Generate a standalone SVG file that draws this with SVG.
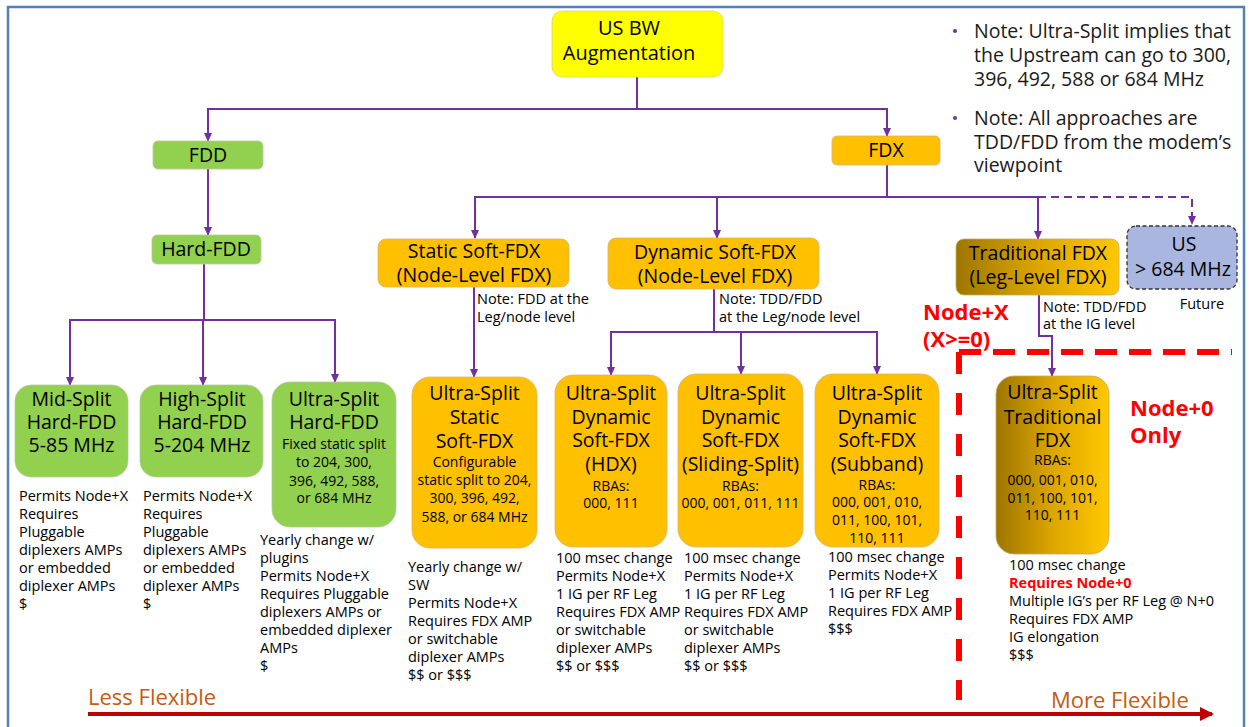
<svg xmlns="http://www.w3.org/2000/svg" width="1250" height="727" viewBox="0 0 1250 727">
<style>
text{font-family:"Open Sans","Noto Sans",sans-serif;fill:#000}
.h{font-size:19.5px;text-anchor:middle}
.s{font-size:14px;text-anchor:middle}
.d{font-size:14.5px}
.n{font-size:14.5px}
.note{font-size:19.5px;fill:#1a1a1a}
.red{font-weight:bold;fill:#FF0000;font-size:22px}
.c{fill:none;stroke:#7030A0;stroke-width:2}
.ca{fill:none;stroke:#7030A0;stroke-width:2;marker-end:url(#ah)}
.g{fill:#92D050;stroke:#b5c9a0;stroke-width:0.8}
.o{fill:#FFC000;stroke:#d9b36a;stroke-width:0.8}
.tr{fill:url(#gold);stroke:#c9a860;stroke-width:0.8}
</style>
<defs>
<marker id="ah" markerWidth="9" markerHeight="9" refX="8" refY="4.5" orient="auto" markerUnits="userSpaceOnUse">
<path d="M0,0.5 L9,4.5 L0,8.5 z" fill="#7030A0"/>
</marker>
<marker id="rh" markerWidth="14" markerHeight="14" refX="12" refY="7" orient="auto" markerUnits="userSpaceOnUse">
<path d="M0,0 L14,7 L0,14 z" fill="#C00000"/>
</marker>
<linearGradient id="gold" x1="0" y1="0" x2="1" y2="0">
<stop offset="0" stop-color="#9E7600"/>
<stop offset="0.5" stop-color="#DCA600"/>
<stop offset="1" stop-color="#FFC800"/>
</linearGradient>
</defs>
<rect width="1250" height="727" fill="#fff"/>
<rect x="8" y="7" width="1236" height="740" fill="none" stroke="#4F81BD" stroke-width="2.5"/>

<g id="connectors">
<path class="c" d="M637,77 V109"/>
<path class="ca" d="M637,109 H208 V141"/>
<path class="ca" d="M637,109 H887 V136"/>
<path class="ca" d="M208,169 V235"/>
<path class="c" d="M204,264 V320"/>
<path class="ca" d="M204,320 H70 V385"/>
<path class="ca" d="M203,320 V385"/>
<path class="ca" d="M204,320 H335 V382"/>
<path class="c" d="M887,165 V197"/>
<path class="ca" d="M887,197 H475 V238"/>
<path class="ca" d="M717,197 V238"/>
<path class="ca" d="M887,197 H1038 V239"/>
<path class="ca" d="M1038,197 H1192 V224" stroke-dasharray="8 5"/>
<path class="ca" d="M474,287 V377"/>
<path class="c" d="M714,289 V332"/>
<path class="ca" d="M714,332 H611 V375"/>
<path class="ca" d="M741,332 V374"/>
<path class="ca" d="M714,332 H877 V374"/>
<path class="ca" d="M1039,295 V336 H1052 V376"/>
</g>

<g id="root">
<rect x="552" y="11" width="171" height="66" rx="10" fill="#FFFF00" stroke="#d8d860" stroke-width="0.8"/>
<text class="h" x="629" y="35" style="font-size:20px">US BW</text>
<text class="h" x="629" y="60" style="font-size:20px">Augmentation</text>
</g>

<g id="fdd">
<rect class="g" x="153" y="141" width="110" height="28" rx="5"/>
<text class="h" x="208" y="162">FDD</text>
</g>

<g id="fdx">
<rect class="o" x="832" y="136" width="108" height="29" rx="5"/>
<text class="h" x="886" y="157">FDX</text>
</g>

<g id="hard-fdd">
<rect class="g" x="152" y="235" width="109" height="29" rx="5"/>
<text class="h" x="206" y="256">Hard-FDD</text>
</g>

<g id="static-soft">
<rect class="o" x="378" y="239" width="191" height="48" rx="8"/>
<text class="h" x="474" y="258">Static Soft-FDX</text>
<text class="h" x="474" y="282">(Node-Level FDX)</text>
<text class="n" x="477" y="304">Note: FDD at the</text>
<text class="n" x="477" y="322">Leg/node level</text>
</g>

<g id="dynamic-soft">
<rect class="o" x="608" y="238" width="211" height="51" rx="8"/>
<text class="h" x="715" y="259">Dynamic Soft-FDX</text>
<text class="h" x="715" y="283">(Node-Level FDX)</text>
<text class="n" x="719" y="304">Note: TDD/FDD</text>
<text class="n" x="719" y="322">at the Leg/node level</text>
</g>

<g id="traditional">
<rect class="tr" x="956" y="239" width="163" height="56" rx="8"/>
<text class="h" x="1038" y="260">Traditional FDX</text>
<text class="h" x="1038" y="284">(Leg-Level FDX)</text>
<text class="n" x="1043" y="312">Note: TDD/FDD</text>
<text class="n" x="1043" y="329">at the IG level</text>
</g>

<g id="us-future">
<rect x="1127" y="226" width="110" height="63" rx="9" fill="#A9B7E0" stroke="#333" stroke-width="1.3" stroke-dasharray="4 2.5"/>
<text class="h" x="1184" y="251">US</text>
<text class="h" x="1183" y="276">&gt; 684 MHz</text>
<text class="n" x="1202" y="309" text-anchor="middle">Future</text>
</g>

<g id="mid-split">
<rect class="g" x="15" y="385" width="113" height="92" rx="16"/>
<text class="h" x="71.5" y="406">Mid-Split</text>
<text class="h" x="71.5" y="429">Hard-FDD</text>
<text class="h" x="71.5" y="452">5-85 MHz</text>
<text class="d" x="19" y="501">Permits Node+X</text>
<text class="d" x="19" y="519">Requires</text>
<text class="d" x="19" y="537">Pluggable</text>
<text class="d" x="19" y="555">diplexers AMPs</text>
<text class="d" x="19" y="573">or embedded</text>
<text class="d" x="19" y="591">diplexer AMPs</text>
<text class="d" x="19" y="609">$</text>
</g>

<g id="high-split">
<rect class="g" x="140" y="385" width="123" height="92" rx="16"/>
<text class="h" x="202" y="406">High-Split</text>
<text class="h" x="202" y="429">Hard-FDD</text>
<text class="h" x="202" y="452">5-204 MHz</text>
<text class="d" x="143" y="501">Permits Node+X</text>
<text class="d" x="143" y="519">Requires</text>
<text class="d" x="143" y="537">Pluggable</text>
<text class="d" x="143" y="555">diplexers AMPs</text>
<text class="d" x="143" y="573">or embedded</text>
<text class="d" x="143" y="591">diplexer AMPs</text>
<text class="d" x="143" y="609">$</text>
</g>

<g id="ultra-hard">
<rect class="g" x="272" y="382" width="124" height="145" rx="18"/>
<text class="h" x="334" y="406">Ultra-Split</text>
<text class="h" x="334" y="429">Hard-FDD</text>
<text class="s" x="334" y="449">Fixed static split</text>
<text class="s" x="334" y="467">to 204, 300,</text>
<text class="s" x="334" y="486">396, 492, 588,</text>
<text class="s" x="334" y="503">or 684 MHz</text>
<text class="d" x="260" y="545">Yearly change w/</text>
<text class="d" x="260" y="563">plugins</text>
<text class="d" x="260" y="581">Permits Node+X</text>
<text class="d" x="260" y="599">Requires Pluggable</text>
<text class="d" x="260" y="617">diplexers AMPs or</text>
<text class="d" x="260" y="635">embedded diplexer</text>
<text class="d" x="260" y="653">AMPs</text>
<text class="d" x="260" y="671">$</text>
</g>

<g id="ultra-static">
<rect class="o" x="412" y="377" width="125" height="171" rx="18"/>
<text class="h" x="474.5" y="400">Ultra-Split</text>
<text class="h" x="474.5" y="424">Static</text>
<text class="h" x="474.5" y="448">Soft-FDX</text>
<text class="s" x="474.5" y="467">Configurable</text>
<text class="s" x="474.5" y="485">static split to 204,</text>
<text class="s" x="474.5" y="503">300, 396, 492,</text>
<text class="s" x="474.5" y="522">588, or 684 MHz</text>
<text class="d" x="408" y="572">Yearly change w/</text>
<text class="d" x="408" y="590">SW</text>
<text class="d" x="408" y="608">Permits Node+X</text>
<text class="d" x="408" y="626">Requires FDX AMP</text>
<text class="d" x="408" y="644">or switchable</text>
<text class="d" x="408" y="662">diplexer AMPs</text>
<text class="d" x="408" y="680">$$ or $$$</text>
</g>

<g id="ultra-hdx">
<rect class="o" x="555" y="375" width="112" height="172" rx="18"/>
<text class="h" x="611" y="400">Ultra-Split</text>
<text class="h" x="611" y="424">Dynamic</text>
<text class="h" x="611" y="447">Soft-FDX</text>
<text class="h" x="611" y="471">(HDX)</text>
<text class="s" x="611" y="491">RBAs:</text>
<text class="s" x="611" y="508">000, 111</text>
<text class="d" x="556" y="563">100 msec change</text>
<text class="d" x="556" y="581">Permits Node+X</text>
<text class="d" x="556" y="599">1 IG per RF Leg</text>
<text class="d" x="556" y="617">Requires FDX AMP</text>
<text class="d" x="556" y="635">or switchable</text>
<text class="d" x="556" y="653">diplexer AMPs</text>
<text class="d" x="556" y="671">$$ or $$$</text>
</g>

<g id="ultra-sliding">
<rect class="o" x="678" y="374" width="125" height="173" rx="18"/>
<text class="h" x="740.5" y="400">Ultra-Split</text>
<text class="h" x="740.5" y="424">Dynamic</text>
<text class="h" x="740.5" y="447">Soft-FDX</text>
<text class="h" x="740.5" y="471">(Sliding-Split)</text>
<text class="s" x="740.5" y="491">RBAs:</text>
<text class="s" x="740.5" y="508">000, 001, 011, 111</text>
<text class="d" x="684" y="563">100 msec change</text>
<text class="d" x="684" y="581">Permits Node+X</text>
<text class="d" x="684" y="599">1 IG per RF Leg</text>
<text class="d" x="684" y="617">Requires FDX AMP</text>
<text class="d" x="684" y="635">or switchable</text>
<text class="d" x="684" y="653">diplexer AMPs</text>
<text class="d" x="684" y="671">$$ or $$$</text>
</g>

<g id="ultra-subband">
<rect class="o" x="815" y="374" width="124" height="173" rx="18"/>
<text class="h" x="877" y="400">Ultra-Split</text>
<text class="h" x="877" y="424">Dynamic</text>
<text class="h" x="877" y="447">Soft-FDX</text>
<text class="h" x="877" y="471">(Subband)</text>
<text class="s" x="877" y="490">RBAs:</text>
<text class="s" x="877" y="507">000, 001, 010,</text>
<text class="s" x="877" y="525">011, 100, 101,</text>
<text class="s" x="877" y="543">110, 111</text>
<text class="d" x="828" y="562">100 msec change</text>
<text class="d" x="828" y="580">Permits Node+X</text>
<text class="d" x="828" y="598">1 IG per RF Leg</text>
<text class="d" x="828" y="616">Requires FDX AMP</text>
<text class="d" x="828" y="634">$$$</text>
</g>

<g id="ultra-traditional">
<rect class="tr" x="996" y="376" width="113" height="178" rx="18"/>
<text class="h" x="1052.5" y="399">Ultra-Split</text>
<text class="h" x="1052.5" y="424">Traditional</text>
<text class="h" x="1052.5" y="447">FDX</text>
<text class="s" x="1052.5" y="465">RBAs:</text>
<text class="s" x="1052.5" y="485">000, 001, 010,</text>
<text class="s" x="1052.5" y="503">011, 100, 101,</text>
<text class="s" x="1052.5" y="520">110, 111</text>
<text class="d" x="1009" y="570">100 msec change</text>
<text class="d" x="1009" y="588" style="font-weight:bold;fill:#FF0000">Requires Node+0</text>
<text class="d" x="1009" y="606">Multiple IG’s per RF Leg @ N+0</text>
<text class="d" x="1009" y="624">Requires FDX AMP</text>
<text class="d" x="1009" y="642">IG elongation</text>
<text class="d" x="1009" y="660">$$$</text>
</g>

<g id="node-zone">
<path d="M959,352 H1232" fill="none" stroke="#FF0000" stroke-width="6" stroke-dasharray="22 12"/>
<path d="M959,352 V700" fill="none" stroke="#FF0000" stroke-width="6" stroke-dasharray="22 19"/>
<text class="red" x="923" y="320">Node+X</text>
<text class="red" x="923" y="347">(X&gt;=0)</text>
<text class="red" x="1130" y="416">Node+0</text>
<text class="red" x="1130" y="443">Only</text>
</g>

<g id="notes">
<circle cx="955" cy="31" r="2" fill="#7030A0"/>
<text class="note" x="974" y="38">Note: Ultra-Split implies that</text>
<text class="note" x="974" y="62">the Upstream can go to 300,</text>
<text class="note" x="974" y="86">396, 492, 588 or 684 MHz</text>
<circle cx="955" cy="118" r="2" fill="#7030A0"/>
<text class="note" x="974" y="125">Note: All approaches are</text>
<text class="note" x="974" y="149">TDD/FDD from the modem’s</text>
<text class="note" x="974" y="172">viewpoint</text>
</g>

<g id="flex-axis">
<path d="M88,714 H1212" fill="none" stroke="#C00000" stroke-width="4" marker-end="url(#rh)"/>
<text x="88" y="705" style="font-size:22px;fill:#C55A11">Less Flexible</text>
<text x="1051" y="708" style="font-size:22px;fill:#C55A11">More Flexible</text>
</g>
</svg>
